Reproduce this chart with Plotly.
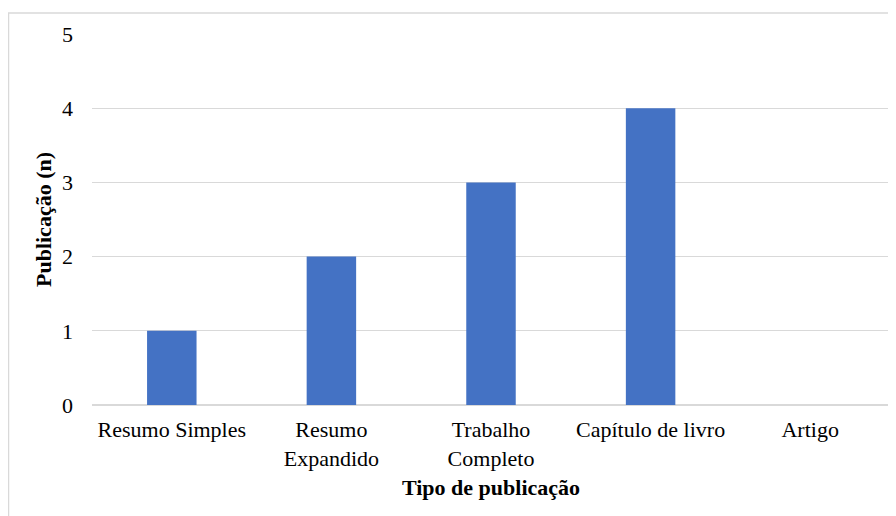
import plotly.graph_objects as go

categories = ["Resumo Simples", "Resumo<br>Expandido", "Trabalho<br>Completo", "Capítulo de livro", "Artigo"]
values = [1, 2, 3, 4, 0]
y_ticks = [0, 1, 2, 3, 4, 5]

W, H = 896, 516
# page body has an 8px margin, so figure coordinates are offset
L, R, T, B = 84, 14, 26, 119

fig = go.Figure()
fig.add_trace(go.Bar(x=categories, y=values, width=0.31,
                     marker=dict(color="#4472C4", line=dict(width=0))))

font = dict(family="Liberation Serif", size=22, color="#000000")

pw = W - L - R
ph = H - T - B
fig.add_shape(type="rect", xref="paper", yref="paper",
              x0=(0.5 - L) / pw, x1=(W + 5 - L) / pw,
              y0=(H - B - (H + 5)) / ph, y1=(H - B - 5) / ph,
              line=dict(color="#d9d9d9", width=1.5), fillcolor="rgba(0,0,0,0)", layer="below")

fig.update_layout(
    width=W, height=H,
    margin=dict(l=L, r=R, t=T, b=B),
    paper_bgcolor="white", plot_bgcolor="white",
    font=font,
    showlegend=False,
    xaxis=dict(
        title=dict(text="<b>Tipo de publicação</b>", font=font, standoff=10),
        showgrid=False, showline=False, zeroline=False, automargin=False,
        tickfont=font, ticks="", ticklabelstandoff=9,
    ),
    yaxis=dict(
        title=dict(text="<b>Publicação (n)</b>", font=font, standoff=4),
        range=[0, 5], tickvals=y_ticks, ticktext=[str(v) for v in y_ticks],
        showgrid=True, gridcolor="#d9d9d9", gridwidth=1, automargin=False,
        zeroline=True, zerolinecolor="#d9d9d9", zerolinewidth=1.5,
        showline=False, tickfont=font, ticks="", ticklabelstandoff=18,
    ),
)

fig.write_html("out.html")
